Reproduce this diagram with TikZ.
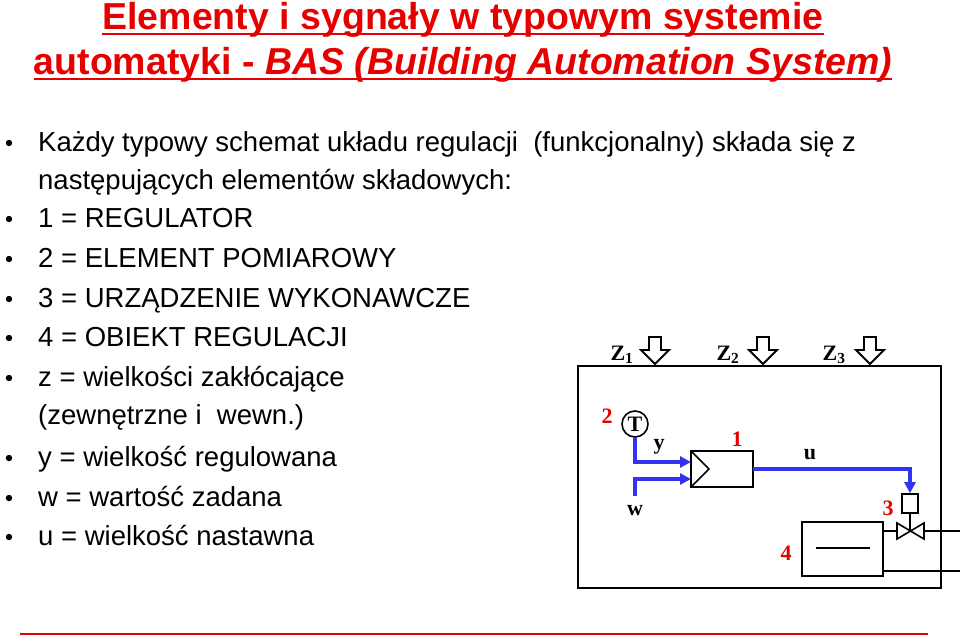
\documentclass[tikz,border=0pt]{standalone}
\usepackage{fontspec}
\setmainfont{Liberation Sans}
\newfontfamily\serifbold{Liberation Serif}
\usetikzlibrary{arrows.meta}
\definecolor{titlered}{RGB}{230,0,0}
\definecolor{sigblue}{RGB}{50,50,240}
\begin{document}
\begin{tikzpicture}[x=1pt,y=-1pt,
    line/.style={anchor=base west,inner sep=0pt,font=\fontsize{27.5}{29}\selectfont},
    num/.style={text=titlered,font=\serifbold\bfseries\fontsize{22}{24}\selectfont},
    lab/.style={font=\serifbold\bfseries\fontsize{22}{24}\selectfont},
    sig/.style={draw=sigblue,line width=3.5pt,-{Triangle[length=11pt,width=11pt]}},
    zarrow/.style={draw,line width=1.8pt,fill=white},
    thick1/.style={line width=1.6pt}]
  \useasboundingbox (0,0) rectangle (960,637);

  % title
  \node[anchor=base,inner sep=0pt,text=titlered,font=\bfseries\fontsize{37.5}{39}\selectfont] (t1) at (463,29)
    {Elementy i sygnały w typowym systemie};
  \node[anchor=base,inner sep=0pt,text=titlered,font=\bfseries\fontsize{37.5}{39}\selectfont] (t2) at (463,74)
    {automatyki - \textit{BAS (Building Automation System)}};
  \draw[titlered,line width=2pt] (t1.base west)+(0,5) -- ([yshift=-5pt]t1.base east);
  \draw[titlered,line width=2pt] (t2.base west)+(0,5) -- ([yshift=-5pt]t2.base east);

  % bullet list
  \foreach \yy/\txt/\b in {151/{Każdy typowy schemat układu regulacji \ (funkcjonalny) składa się z}/1,
      189/{następujących elementów składowych:}/0,
      227/{1 = REGULATOR}/1, 267/{2 = ELEMENT POMIAROWY}/1,
      307/{3 = URZĄDZENIE WYKONAWCZE}/1, 346/{4 = OBIEKT REGULACJI}/1,
      386/{z = wielkości zakłócające}/1, 424/{(zewnętrzne i \ wewn.)}/0,
      466/{y = wielkość regulowana}/1, 506/{w = wartość zadana}/1,
      545/{u = wielkość nastawna}/1}{
    \node[line] at (38,\yy) {\txt};
    \ifnum\b=1 \fill (9,\yy-8) circle (3.2pt); \fi
  }

  % system frame
  \draw[thick1] (578,366) rectangle (941,588);
  \foreach \zx/\ax/\i in {622/655/1,728/763/2,834/870/3}{
    \node[lab,anchor=base] at (\zx,360) {Z\textsubscript{\i}};
    \draw[zarrow] (\ax-6,337) -- (\ax+6,337) -- (\ax+6,350) -- (\ax+14,350)
      -- (\ax,364) -- (\ax-14,350) -- (\ax-6,350) -- cycle;
  }

  % sensor
  \node[draw,circle,thick1,minimum size=26pt,inner sep=0pt,lab] (sens) at (635,424) {T};
  \node[num] (n2) at (607,416) {2};

  % controller
  \draw[thick1] (691,451) rectangle (753,487);
  \coordinate (regin) at (691,462);
  \coordinate (regw) at (691,479);
  \coordinate (regout) at (753,469);
  \draw[thick1] (691,451) -- (709,469) -- (691,487);
  \node[num] (n1) at (737,439) {1};

  \coordinate (wsrc) at (635,496);
  \draw[sig] (sens.south) |- (regin);
  \draw[sig] (wsrc) |- (regw);
  \node[lab] (ylab) at (659,447) {y};
  \node[lab] (wlab) at (635,511) {w};

  % actuator + valve
  \node[draw,thick1,minimum width=16pt,minimum height=19pt,inner sep=0pt] (act) at (910,503.5) {};
  \draw[sig] (regout) -| (act.north);
  \node[lab] (ulab) at (810,455) {u};
  \node[num] (n3) at (888,508) {3};
  \coordinate (vc) at (910,531);
  \draw[thick1] (act.south) -- (vc);
  \draw[thick1] (897,523) -- (897,539) -- (924,523) -- (924,539) -- cycle;

  % process
  \node[draw,thick1,minimum width=81pt,minimum height=54pt,inner sep=0pt] (proc) at (842.5,549) {};
  \draw[thick1] (816,548) -- (870,548);
  \node[num] (n4) at (786,553) {4};
  \draw[thick1] (883,531) -- (897,531);
  \draw[thick1] (924,531) -- (960,531);
  \draw[thick1] (883,571) -- (960,571);

  % bottom rule
  \draw[titlered,line width=1.5pt] (20,634) -- (928,634);
\end{tikzpicture}
\end{document}
